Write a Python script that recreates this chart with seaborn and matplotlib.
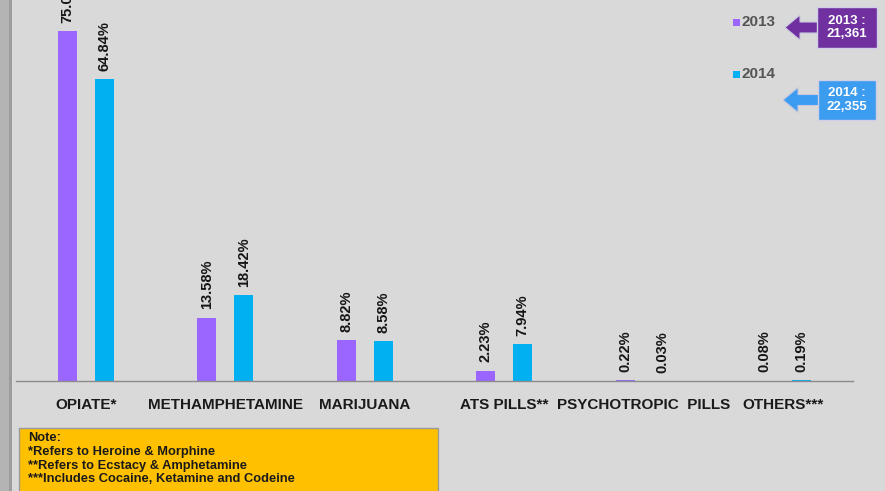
import pandas as pd
import seaborn as sns
import matplotlib.pyplot as plt
from matplotlib.patches import Rectangle, FancyArrow

categories = ['OPIATE*', 'METHAMPHETAMINE', 'MARIJUANA', 'ATS PILLS**', 'PSYCHOTROPIC  PILLS', 'OTHERS***']
pct_2013 = [75.07, 13.58, 8.82, 2.23, 0.22, 0.08]
pct_2014 = [64.84, 18.42, 8.58, 7.94, 0.03, 0.19]
years = ['2013', '2014']
totals = ['21,361', '22,355']
notes = ['Note:', '*Refers to Heroine & Morphine', '**Refers to Ecstacy & Amphetamine',
         '***Includes Cocaine, Ketamine and Codeine']

df = pd.DataFrame({
    'drug': categories * 2,
    'year': ['2013'] * len(categories) + ['2014'] * len(categories),
    'pct': pct_2013 + pct_2014,
})

bg = '#d9d9d9'
colors = {'2013': '#9a66ff', '2014': '#00b0f0'}

sns.set_style('white')
plt.rcParams['font.family'] = ['Liberation Sans', 'DejaVu Sans']

fig = plt.figure(figsize=(8.85, 4.91), dpi=100)
fig.patch.set_facecolor(bg)
W, H = 885, 491

def fx(x):
    return x / W

def fy(y):
    return 1 - y / H

ax = fig.add_axes([fx(16), fy(381), fx(853) - fx(16), fy(0) - fy(381)])
ax.set_facecolor(bg)

sns.barplot(data=df, x='drug', y='pct', hue='year', palette=colors, width=0.53, gap=0.49,
            legend=False, ax=ax, saturation=1, linewidth=0)

for cont in ax.containers:
    vals = [b.get_height() for b in cont]
    ax.bar_label(cont, labels=[f'{v:.2f}%' for v in vals], rotation=90, padding=6,
                 fontsize=10.5, fontweight='semibold', color='#151515', clip_on=False)

ax.set_xlim(-0.5, len(categories) - 0.5)
ax.set_ylim(0, 381 / ((381 - 79) / 64.84))
ax.set_xlabel('')
ax.set_ylabel('')
ax.set_yticks([])
for s in ['top', 'right', 'left']:
    ax.spines[s].set_visible(False)
ax.spines['bottom'].set_color('#8c8c8c')
ax.spines['bottom'].set_linewidth(1)

ax.set_xticks(range(len(categories)))
ax.set_xticklabels(categories, fontsize=11, fontweight='bold', color='#1a1a1a')
ax.tick_params(axis='x', which='major', length=0, pad=12)
ax.set_xticks([i - 0.5 for i in range(len(categories) + 1)], minor=True)
ax.tick_params(axis='x', which='minor', length=4, color='#8c8c8c', direction='out')

# left edge strip
fig.patches.append(Rectangle((0, 0), fx(9), 1, transform=fig.transFigure,
                             facecolor='#b4b4b4', edgecolor='none', zorder=0))
fig.patches.append(Rectangle((fx(9), 0), fx(3), 1, transform=fig.transFigure,
                             facecolor='#9c9c9c', edgecolor='none', zorder=0))

# legend
for i, yr in enumerate(years):
    yy = [22, 74][i]
    fig.patches.append(Rectangle((fx(733), fy(yy + 3.5)), fx(7), 7 / H, transform=fig.transFigure,
                                 facecolor=colors[yr], edgecolor='none'))
    fig.text(fx(742), fy(yy), yr, fontsize=11, fontweight='bold', color='#555555',
             ha='left', va='center')

# arrow callouts
boxes = [('#7030a0', 817, 7, 877, 48, 785), ('#3c9cf0', 818, 80, 876, 120, 783)]
for (col, x0, y0, x1, y1, tip), yr, tot in zip(boxes, years, totals):
    yc = (y0 + y1) / 2
    fig.patches.append(FancyArrow(fx(x0 + 1), fy(yc), fx(tip - x0 - 1), 0, width=11 / H,
                                  head_width=25 / H, head_length=fx(15),
                                  length_includes_head=True, transform=fig.transFigure,
                                  facecolor=col, edgecolor='#c8c8e0', linewidth=0.8))
    fig.patches.append(Rectangle((fx(x0), fy(y1)), fx(x1 - x0), (y1 - y0) / H,
                                 transform=fig.transFigure, facecolor=col,
                                 edgecolor='#cfcfe8', linewidth=1))
    fig.text(fx((x0 + x1) / 2), fy(yc), f'{yr} :\n{tot}', fontsize=9.5, fontweight='bold',
             color='white', ha='center', va='center', linespacing=1.2)

# note box
fig.patches.append(Rectangle((fx(19), fy(495)), fx(419), 67 / H, transform=fig.transFigure,
                             facecolor='#ffc000', edgecolor='#9a9a9a', linewidth=1))
for i, line in enumerate(notes):
    fig.text(fx(28), fy(438 + i * 13.8), line, fontsize=9.3, fontweight='bold',
             color='#1a1a1a', ha='left', va='center')

plt.savefig('out.png', dpi=100, facecolor=bg)
